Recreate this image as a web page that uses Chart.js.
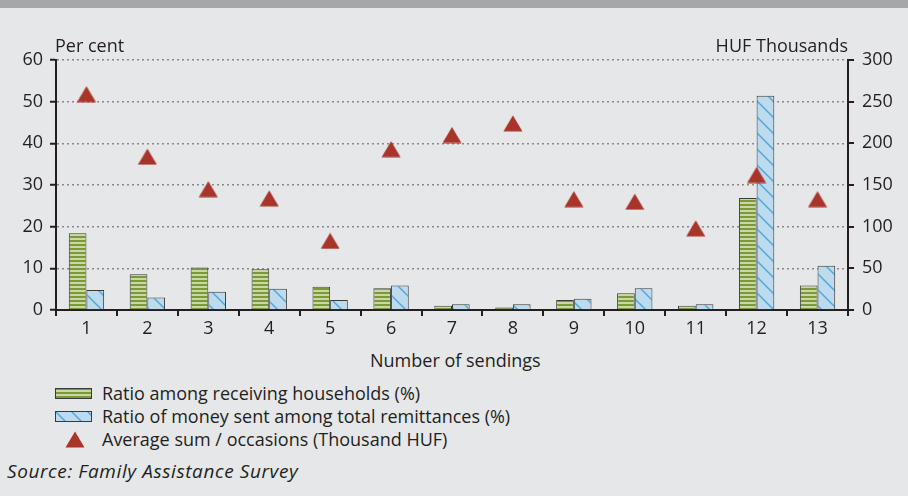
<!DOCTYPE html>
<html>
<head>
<meta charset="utf-8">
<script src="https://cdn.jsdelivr.net/npm/chart.js@4.4.1/dist/chart.umd.min.js"></script>
<style>
  body { margin: 0; width: 908px; height: 496px; background: #e6e7e9; font-family: "Open Sans", sans-serif; color: #231f20; position: relative; overflow: hidden; }
  #topbar { position: absolute; left: 0; top: 0; width: 908px; height: 8px; background: #a6a7aa; }
  #chart { position: absolute; left: 0; top: 0; }
  .txt { position: absolute; white-space: nowrap; font-size: 18px; line-height: 22px; }
  .sw { position: absolute; }
</style>
</head>
<body>
<div id="topbar"></div>
<canvas id="chart" width="908" height="340"></canvas>
<div class="txt" style="left:55px; top:34px;">Per cent</div>
<div class="txt" style="right:60px; top:34px;">HUF Thousands</div>
<div class="txt" style="left:370px; top:349px;">Number of sendings</div>
<canvas class="sw" id="sw1" width="37" height="11" style="left:55px; top:388px;"></canvas>
<div class="txt" style="left:102px; top:382px;">Ratio among receiving households (%)</div>
<canvas class="sw" id="sw2" width="37" height="11" style="left:55px; top:411px;"></canvas>
<div class="txt" style="left:102px; top:405px;">Ratio of money sent among total remittances (%)</div>
<canvas class="sw" id="sw3" width="20" height="17" style="left:65px; top:431px;"></canvas>
<div class="txt" style="left:102px; top:428px;">Average sum / occasions (Thousand HUF)</div>
<div class="txt" style="left:7px; top:460px; font-style:italic; font-size:19px; letter-spacing:0.6px;">Source: Family Assistance Survey</div>
<script>
const categories = ["1", "2", "3", "4", "5", "6", "7", "8", "9", "10", "11", "12", "13"];
const householdsRatio = [18.4, 8.6, 10.2, 9.8, 5.6, 5.2, 1.0, 0.6, 2.4, 4.0, 1.0, 26.9, 5.9];
const moneyRatio = [4.8, 3.0, 4.4, 5.1, 2.4, 5.9, 1.4, 1.4, 2.7, 5.2, 1.4, 51.4, 10.6];
const averageSum = [259, 184, 145, 134, 83, 193, 210, 224, 133, 130, 98, 162, 133];
const leftTicks = [0, 10, 20, 30, 40, 50, 60];
const rightTicks = [0, 50, 100, 150, 200, 250, 300];

// patterns for the bars
function greenPattern(ctx) {
    const c = document.createElement('canvas');
    c.width = 4; c.height = 4;
    const g = c.getContext('2d');
    g.fillStyle = '#c9d8a3';
    g.fillRect(0, 0, 4, 4);
    g.fillStyle = '#7a9a3a';
    g.fillRect(0, 0, 4, 2);
    return ctx.createPattern(c, 'repeat');
}
function bluePattern(ctx) {
    const c = document.createElement('canvas');
    c.width = 16; c.height = 16;
    const g = c.getContext('2d');
    g.fillStyle = '#bddbef';
    g.fillRect(0, 0, 16, 16);
    g.strokeStyle = '#55a7d8';
    g.lineWidth = 1.5;
    g.beginPath();
    g.moveTo(-2, -2); g.lineTo(18, 18);
    g.moveTo(-18, -2); g.lineTo(2, 18);
    g.moveTo(14, -2); g.lineTo(34, 18);
    g.stroke();
    return ctx.createPattern(c, 'repeat');
}
function triangleImage() {
    const c = document.createElement('canvas');
    c.width = 20; c.height = 17;
    const g = c.getContext('2d');
    g.fillStyle = '#a9342a';
    g.beginPath();
    g.moveTo(10, 0.5); g.lineTo(19.5, 16.5); g.lineTo(0.5, 16.5);
    g.closePath();
    g.fill();
    return c;
}

const ctx = document.getElementById('chart').getContext('2d');
const greenFill = greenPattern(ctx);
const blueFill = bluePattern(ctx);
const triangle = triangleImage();

// legend swatches
const s1 = document.getElementById('sw1').getContext('2d');
s1.fillStyle = greenPattern(s1); s1.fillRect(0, 0, 37, 11);
s1.strokeStyle = '#3a3a3a'; s1.strokeRect(0.5, 0.5, 36, 10);
const s2 = document.getElementById('sw2').getContext('2d');
s2.fillStyle = bluePattern(s2); s2.fillRect(0, 0, 37, 11);
s2.strokeStyle = '#3a3a3a'; s2.strokeRect(0.5, 0.5, 36, 10);
document.getElementById('sw3').getContext('2d').drawImage(triangle, 0, 0);

const tickFont = { family: 'Open Sans', size: 18 };

new Chart(ctx, {
    data: {
        labels: categories,
        datasets: [
            {
                type: 'line',
                data: averageSum,
                yAxisID: 'y2',
                showLine: false,
                pointStyle: triangle,
                order: 0
            },
            {
                type: 'bar',
                data: householdsRatio,
                yAxisID: 'y',
                backgroundColor: greenFill,
                borderColor: '#3a3a3a',
                borderWidth: 1,
                categoryPercentage: 0.58,
                barPercentage: 1,
                order: 1
            },
            {
                type: 'bar',
                data: moneyRatio,
                yAxisID: 'y',
                backgroundColor: blueFill,
                borderColor: '#3a3a3a',
                borderWidth: 1,
                categoryPercentage: 0.58,
                barPercentage: 1,
                order: 1
            }
        ]
    },
    options: {
        responsive: false,
        animation: false,
        events: [],
        layout: { padding: { top: 60, left: 0, right: 0, bottom: 0 } },
        plugins: { legend: { display: false }, tooltip: { enabled: false } },
        scales: {
            x: {
                offset: true,
                afterFit: (s) => { s.height = 30; },
                grid: { offset: true, drawOnChartArea: false, drawTicks: true, tickLength: 6, color: '#231f20', lineWidth: 2 },
                border: { color: '#231f20', width: 2 },
                ticks: { color: '#231f20', font: tickFont, padding: 2, maxRotation: 0 }
            },
            y: {
                position: 'left',
                min: 0, max: 60,
                afterFit: (s) => { s.width = 56; },
                afterBuildTicks: (s) => { s.ticks = leftTicks.map(v => ({ value: v })); },
                grid: {
                    color: (c) => c.tick && c.tick.value === 0 ? 'rgba(0,0,0,0)' : '#8a8a8a',
                    lineWidth: 1.5,
                    tickColor: '#231f20',
                    tickLength: 6,
                    tickWidth: 2,
                    tickBorderDash: []
                },
                border: { color: '#231f20', width: 2, dash: [2, 3] },
                ticks: { color: '#231f20', font: tickFont, padding: 7 }
            },
            y2: {
                position: 'right',
                min: 0, max: 300,
                afterFit: (s) => { s.width = 60; },
                afterBuildTicks: (s) => { s.ticks = rightTicks.map(v => ({ value: v })); },
                grid: { drawOnChartArea: false, color: '#231f20', tickLength: 6, lineWidth: 2 },
                border: { color: '#231f20', width: 2 },
                ticks: { color: '#231f20', font: tickFont, padding: 8 }
            }
        }
    }
});
</script>
</body>
</html>
